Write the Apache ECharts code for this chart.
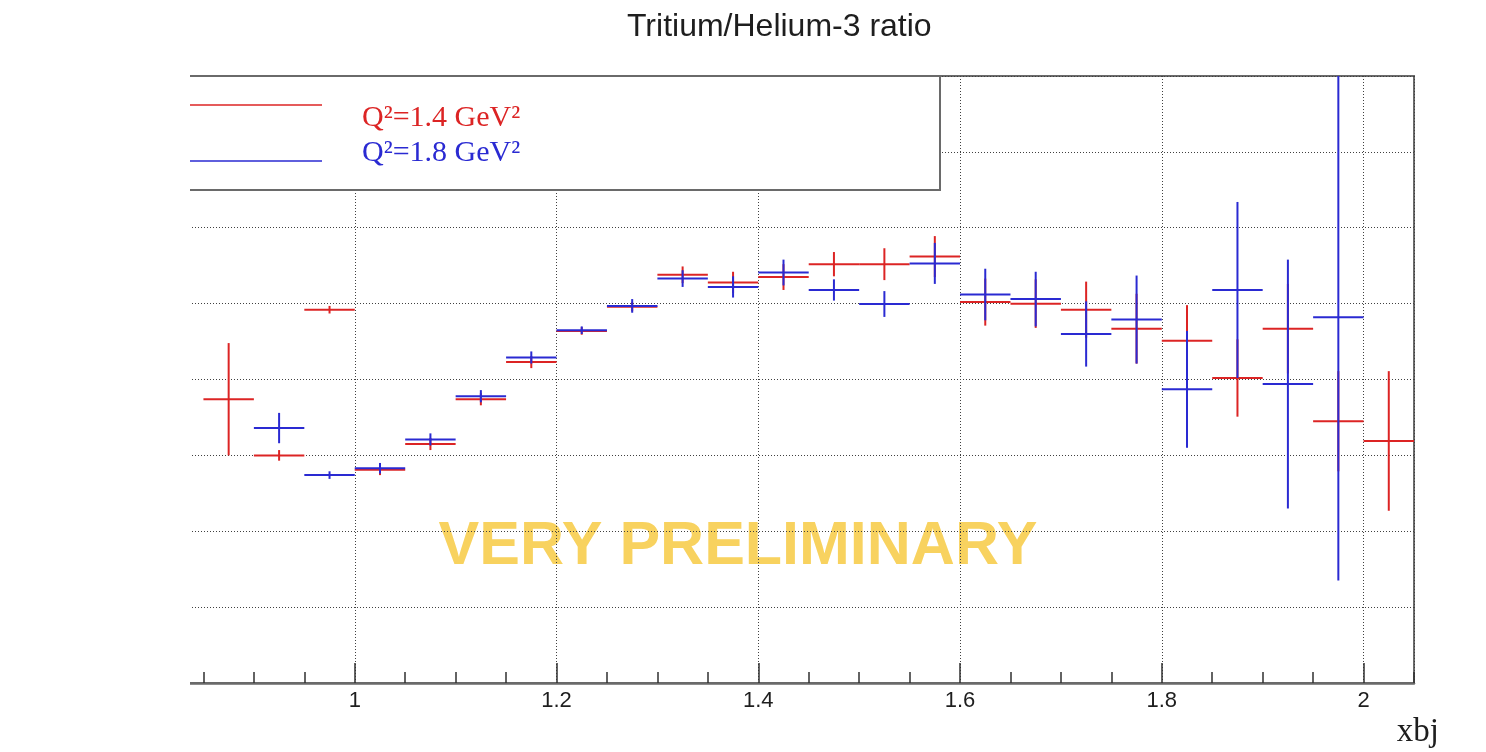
<!DOCTYPE html>
<html>
<head>
<meta charset="utf-8">
<title>Tritium/Helium-3 ratio</title>
<script src="https://cdn.jsdelivr.net/npm/echarts@6/dist/echarts.min.js"></script>
<style>
  html, body { margin: 0; padding: 0; background: #ffffff; }
  #chart { width: 1486px; height: 752px; }
</style>
</head>
<body>
<div id="chart"></div>
<script>
// Bin width in xbj; every point is drawn as a cross spanning its bin horizontally
const BIN_WIDTH = 0.05;

// Q^2 = 1.4 GeV^2 : bin centres, ratio values, statistical errors
const xQ14 = [0.875, 0.925, 0.975, 1.025, 1.075, 1.125, 1.175, 1.225, 1.275, 1.325, 1.375, 1.425,
              1.475, 1.525, 1.575, 1.625, 1.675, 1.725, 1.775, 1.825, 1.875, 1.925, 1.975, 2.025];
const yQ14 = [0.874, 0.800, 0.992, 0.781, 0.815, 0.874, 0.923, 0.964, 0.996, 1.038, 1.028, 1.035,
              1.052, 1.052, 1.062, 1.002, 1.000, 0.992, 0.967, 0.951, 0.902, 0.967, 0.845, 0.819];
const eQ14 = [0.074, 0.007, 0.005, 0.007, 0.008, 0.008, 0.008, 0.005, 0.006, 0.011, 0.014, 0.017,
              0.016, 0.021, 0.027, 0.031, 0.032, 0.037, 0.046, 0.047, 0.051, 0.059, 0.066, 0.092];

// Q^2 = 1.8 GeV^2
const xQ18 = [0.925, 0.975, 1.025, 1.075, 1.125, 1.175, 1.225, 1.275, 1.325, 1.375, 1.425,
              1.475, 1.525, 1.575, 1.625, 1.675, 1.725, 1.775, 1.825, 1.875, 1.925, 1.975];
const yQ18 = [0.836, 0.774, 0.783, 0.821, 0.878, 0.929, 0.965, 0.997, 1.033, 1.022, 1.041,
              1.018, 0.9995, 1.053, 1.012, 1.006, 0.960, 0.979, 0.887, 1.018, 0.894, 0.982];
const eQ18 = [0.020, 0.005, 0.007, 0.008, 0.008, 0.008, 0.005, 0.009, 0.011, 0.014, 0.017,
              0.014, 0.017, 0.027, 0.034, 0.036, 0.043, 0.058, 0.077, 0.116, 0.164, 0.347];

const seriesNames = ['Q²=1.4 GeV²', 'Q²=1.8 GeV²'];
const RED = '#dc2424';
const BLUE = '#2a2ad2';

function rows(xs, ys, es) {
  return xs.map((x, i) => [x, ys[i], es[i]]);
}

function errorCross(color) {
  return function (params, api) {
    const x = api.value(0), y = api.value(1), e = api.value(2);
    const half = BIN_WIDTH / 2;
    const l = api.coord([x - half, y]);
    const r = api.coord([x + half, y]);
    const t = api.coord([x, y + e]);
    const b = api.coord([x, y - e]);
    const style = { stroke: color, lineWidth: 2 };
    return {
      type: 'group',
      children: [
        { type: 'line', shape: { x1: l[0], y1: l[1], x2: r[0], y2: r[1] }, style: style },
        { type: 'line', shape: { x1: t[0], y1: t[1], x2: b[0], y2: b[1] }, style: style }
      ]
    };
  };
}

const gridLine = { show: true, lineStyle: { color: '#404040', width: 1, type: [1, 2] } };

const chart = echarts.init(document.getElementById('chart'));
chart.setOption({
  animation: false,
  backgroundColor: '#ffffff',
  title: {
    text: 'Tritium/Helium-3 ratio',
    left: 627,
    top: 11,
    padding: 0,
    textStyle: { fontFamily: 'Liberation Sans', fontSize: 32, fontWeight: 'normal', color: '#1e1e1e' }
  },
  grid: {
    left: 153, right: 72, top: 76, bottom: 69,
    show: true, borderColor: '#6a6a6a', borderWidth: 2, backgroundColor: 'transparent'
  },
  xAxis: [
    {
      type: 'value', min: 0.8, max: 2.05, interval: 0.2, position: 'bottom',
      axisLine: { show: true, lineStyle: { color: '#6a6a6a', width: 2.5 } },
      axisTick: { show: true, inside: true, length: 20, lineStyle: { color: '#303030', width: 1.5 } },
      axisLabel: {
        show: true, margin: 7, showMinLabel: true, showMaxLabel: false,
        fontFamily: 'Liberation Sans', fontSize: 22, color: '#1e1e1e'
      },
      splitLine: gridLine
    },
    {
      // secondary ticks every 0.05 in xbj
      type: 'value', min: 0.8, max: 2.05, interval: 0.05, position: 'bottom',
      axisLine: { show: false },
      axisTick: { show: true, inside: true, length: 11, lineStyle: { color: '#303030', width: 1.5 } },
      axisLabel: { show: false },
      splitLine: { show: false }
    }
  ],
  yAxis: {
    type: 'value', min: 0.5, max: 1.3, interval: 0.1,
    axisLine: { show: false }, axisTick: { show: false }, axisLabel: { show: false },
    splitLine: gridLine
  },
  series: [
    {
      name: seriesNames[0], type: 'custom', xAxisIndex: 0, yAxisIndex: 0, clip: true, z: 3,
      encode: { x: 0, y: 1 },
      data: rows(xQ14, yQ14, eQ14),
      renderItem: errorCross(RED)
    },
    {
      name: seriesNames[1], type: 'custom', xAxisIndex: 0, yAxisIndex: 0, clip: true, z: 4,
      encode: { x: 0, y: 1 },
      data: rows(xQ18, yQ18, eQ18),
      renderItem: errorCross(BLUE)
    }
  ],
  graphic: [
    {
      type: 'text', z: -1,
      style: {
        text: 'VERY PRELIMINARY', x: 738, y: 547, align: 'center', verticalAlign: 'middle',
        font: 'bold 61px "Liberation Sans"', fill: '#f8d25f'
      }
    },
    // legend panel
    {
      type: 'rect', z: 50,
      shape: { x: 150, y: 76, width: 790, height: 114 },
      style: { fill: '#ffffff', stroke: '#6a6a6a', lineWidth: 2 }
    },
    {
      type: 'line', z: 51,
      shape: { x1: 190, y1: 105, x2: 322, y2: 105 },
      style: { stroke: RED, lineWidth: 1.5 }
    },
    {
      type: 'line', z: 51,
      shape: { x1: 190, y1: 161, x2: 322, y2: 161 },
      style: { stroke: BLUE, lineWidth: 1.5 }
    },
    {
      type: 'text', z: 51,
      style: {
        text: seriesNames[0], x: 362, y: 118, align: 'left', verticalAlign: 'middle',
        font: '30px "Liberation Serif"', fill: RED
      }
    },
    {
      type: 'text', z: 51,
      style: {
        text: seriesNames[1], x: 362, y: 153, align: 'left', verticalAlign: 'middle',
        font: '30px "Liberation Serif"', fill: BLUE
      }
    },
    // axis title
    {
      type: 'text', z: 51,
      style: {
        text: 'xbj', x: 1439, y: 732, align: 'right', verticalAlign: 'middle',
        font: '33px "Liberation Serif"', fill: '#1e1e1e'
      }
    },
    // left margin of the page
    {
      type: 'rect', z: 100,
      shape: { x: 0, y: 0, width: 190, height: 752 },
      style: { fill: '#ffffff' }
    }
  ]
});
</script>
</body>
</html>
